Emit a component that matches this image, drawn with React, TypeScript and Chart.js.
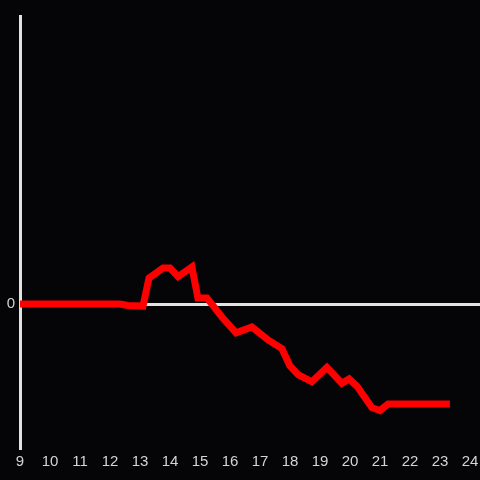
import React, { useEffect, useRef } from "react";
import { Chart, registerables } from "chart.js";

Chart.register(...registerables);

const xValues = [9, 12.33, 12.6, 13.1, 13.3, 13.77, 14.0, 14.27, 14.73, 14.93, 15.23, 15.73, 16.2, 16.73, 17.27, 17.73, 18.0, 18.27, 18.73, 19.23, 19.73, 19.97, 20.23, 20.73, 21.0, 21.27, 23.33];
const yValues = [0, 0, -0.01, -0.014, 0.18, 0.25, 0.25, 0.19, 0.257, 0.042, 0.042, -0.09, -0.2, -0.16, -0.25, -0.31, -0.43, -0.49, -0.54, -0.44, -0.55, -0.52, -0.57, -0.72, -0.74, -0.695, -0.695];
const xTicks = [9, 10, 11, 12, 13, 14, 15, 16, 17, 18, 19, 20, 21, 22, 23, 24];
const yTicks = [0];

const BG = "#050507";
const AXIS = "#e2e2e2";
const TEXT = "#d4d4d4";

export default function App() {
  const ref = useRef<HTMLCanvasElement | null>(null);
  useEffect(() => {
    document.body.style.margin = "0";
    document.body.style.background = BG;
    const canvas = ref.current!;
    const chart = new Chart(canvas, {
      type: "line",
      data: {
        datasets: [
          {
            data: xValues.map((x, i) => ({ x, y: yValues[i] })),
            borderColor: "#ff0000",
            borderWidth: 7,
            pointRadius: 0,
            tension: 0,
            fill: false,
          },
        ],
      },
      options: {
        animation: false,
        responsive: false,
        maintainAspectRatio: false,
        layout: { padding: { top: 16, right: 0, left: 0, bottom: 0 } },
        plugins: { legend: { display: false }, tooltip: { enabled: false } },
        scales: {
          x: {
            type: "linear",
            min: 9,
            max: 24.333,
            afterBuildTicks: (s: any) => {
              s.ticks = xTicks.map((v) => ({ value: v }));
            },
            afterFit: (s: any) => {
              s.height = 32;
              s.paddingLeft = 0;
              s.paddingRight = 0;
            },
            grid: { display: false, drawTicks: false },
            border: { display: false },
            ticks: {
              color: TEXT,
              font: { family: "'Liberation Sans', Arial, sans-serif", size: 15 },
              padding: 5,
              maxRotation: 0,
              autoSkip: false,
              callback: (v: any) => String(v),
            },
          },
          y: {
            type: "linear",
            min: -1,
            max: 2,
            afterBuildTicks: (s: any) => {
              s.ticks = yTicks.map((v) => ({ value: v }));
            },
            afterFit: (s: any) => {
              s.width = 20;
              s.paddingTop = 0;
              s.paddingBottom = 0;
            },
            grid: {
              drawTicks: false,
              color: (c: any) => (c.tick && c.tick.value === 0 ? AXIS : "transparent"),
              lineWidth: 3,
            },
            border: { display: true, color: AXIS, width: 3 },
            ticks: {
              color: TEXT,
              font: { family: "'Liberation Sans', Arial, sans-serif", size: 15 },
              padding: 5,
              callback: (v: any) => String(v),
            },
          },
        },
      },
    });
    return () => chart.destroy();
  }, []);
  return (
    <div style={{ width: 480, height: 480, background: BG }}>
      <canvas ref={ref} width={480} height={480} style={{ display: "block" }} />
    </div>
  );
}
